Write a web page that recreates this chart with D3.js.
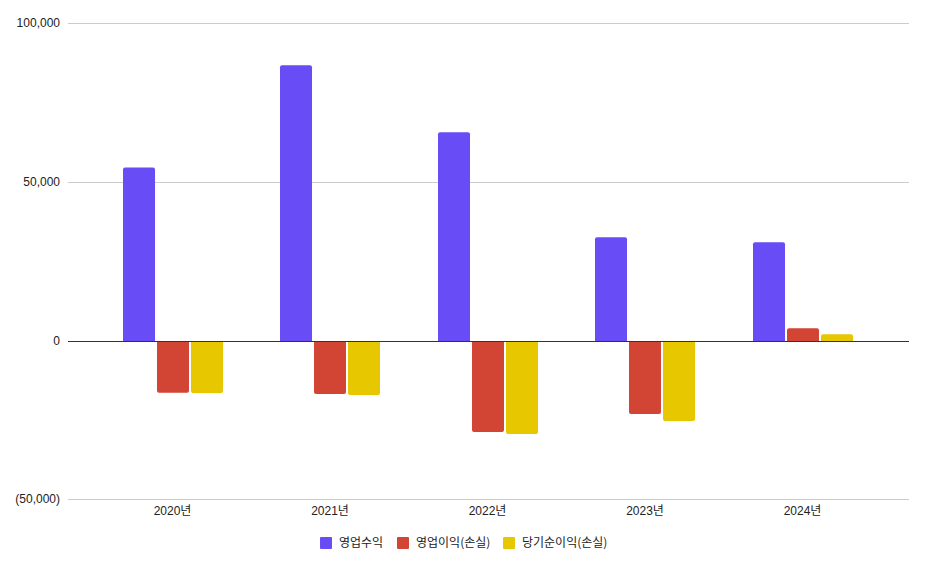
<!DOCTYPE html>
<html><head><meta charset="utf-8">
<script src="https://cdn.jsdelivr.net/npm/d3@7"></script>
<style>
body{margin:0;background:#fff;}
svg{display:block;font-family:"Liberation Sans",Arial,"Noto Sans CJK KR",sans-serif;}
</style></head>
<body><svg id="c" width="928" height="569"></svg>
<script>
const categories = ["2020년","2021년","2022년","2023년","2024년"];
const seriesNames = ["영업수익","영업이익(손실)","당기순이익(손실)"];
const revenue = [54500, 86650, 65550, 32450, 30900];
const operatingIncome = [-16500, -16900, -28900, -23200, 3800];
const netIncome = [-16600, -17250, -29500, -25400, 1900];
const yTicks = [-50000, 0, 50000, 100000];
const colors = ["#684cf5","#d24434","#e6c700"];

const series = [revenue, operatingIncome, netIncome];
const svg = d3.select("#c");
const plotLeft = 68, plotRight = 909, plotTop = 23, plotBottom = 499;
const y = d3.scaleLinear().domain([-50000, 100000]).range([plotBottom, plotTop]);
const x = d3.scaleBand().domain(categories).range([93.75, 881.25]);
const barW = 32, gap = 2;
const fmt = v => v < 0 ? "(" + d3.format(",")(-v) + ")" : d3.format(",")(v);
const lineY = d => Math.ceil(y(d)) + 0.5;

// gridlines
svg.append("g").selectAll("line").data(yTicks).join("line")
  .attr("x1", plotLeft).attr("x2", plotRight)
  .attr("y1", lineY).attr("y2", lineY)
  .attr("stroke", d => d === 0 ? "#333" : "#ccc").attr("stroke-width", 1);

// y labels
svg.append("g").selectAll("text").data(yTicks).join("text")
  .attr("x", 60).attr("y", d => y(d)).attr("dy", "0.35em")
  .attr("text-anchor", "end").attr("font-size", 12).attr("fill", "#222")
  .text(fmt);

// x labels
svg.append("g").selectAll("text").data(categories).join("text")
  .attr("x", d => x(d) + x.bandwidth()/2).attr("y", 511).attr("dy","0.35em")
  .attr("text-anchor", "middle").attr("font-size", 12).attr("fill", "#222")
  .text(d => d);

function barPath(x0, w, v) {
  const y0 = lineY(0), y1 = y(v), r = Math.min(2, Math.abs(y1 - y0));
  if (v >= 0) {
    return `M${x0},${y0}V${y1 + r}Q${x0},${y1} ${x0 + r},${y1}H${x0 + w - r}Q${x0 + w},${y1} ${x0 + w},${y1 + r}V${y0}Z`;
  } else {
    return `M${x0},${y0}V${y1 - r}Q${x0},${y1} ${x0 + r},${y1}H${x0 + w - r}Q${x0 + w},${y1} ${x0 + w},${y1 - r}V${y0}Z`;
  }
}

const groupW = barW * 3 + gap * 2;
series.forEach((vals, si) => {
  svg.append("g").selectAll("path").data(vals).join("path")
    .attr("d", (v, i) => {
      const cx = x(categories[i]) + x.bandwidth()/2;
      const x0 = Math.round(cx - groupW/2 + si * (barW + gap));
      return barPath(x0, barW, v);
    })
    .attr("fill", colors[si]);
});
// zero line on top
svg.append("line").attr("x1", plotLeft).attr("x2", plotRight)
  .attr("y1", lineY(0)).attr("y2", lineY(0))
  .attr("stroke", "#333");

// legend
const legendX = [320, 397, 503];
const lg = svg.append("g");
seriesNames.forEach((n, i) => {
  lg.append("rect").attr("x", legendX[i]).attr("y", 537).attr("width", 12).attr("height", 12)
    .attr("rx", 1).attr("fill", colors[i]);
  lg.append("text").attr("x", legendX[i] + 19).attr("y", 543).attr("dy", "0.35em")
    .attr("font-size", 12).attr("fill", "#222").attr("font-family", "'Noto Sans CJK KR','Liberation Sans',sans-serif")
    .text(n);
});
</script></body></html>
